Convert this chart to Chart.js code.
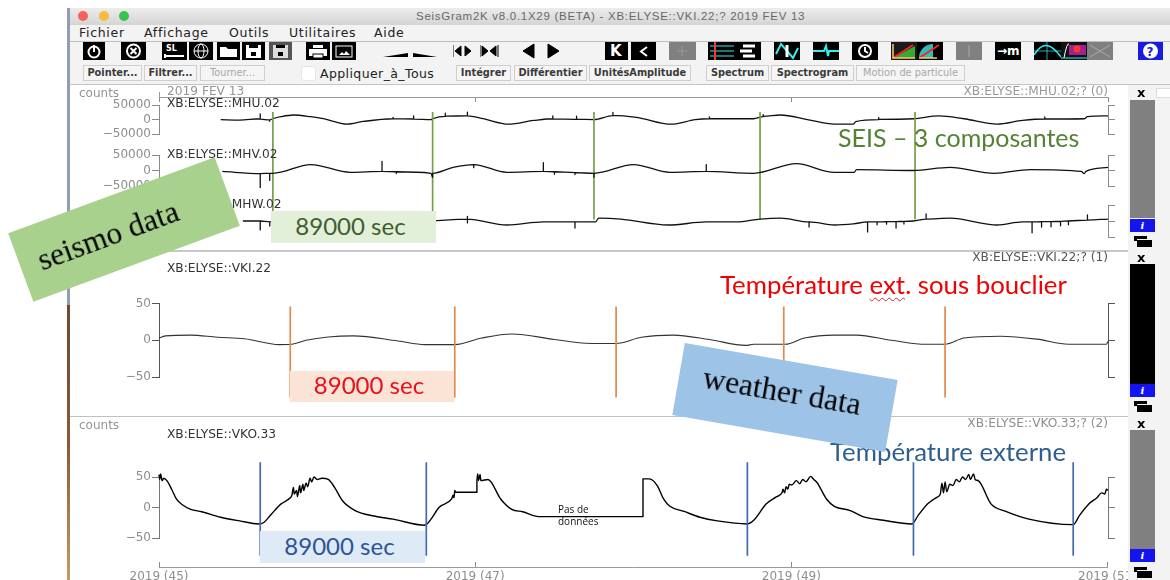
<!DOCTYPE html>
<html lang="fr">
<head>
<meta charset="utf-8">
<title>SeisGram2K</title>
<script src="https://cdn.jsdelivr.net/npm/chart.js@4"></script>
<style>
  html, body { margin: 0; width: 1170px; height: 580px; overflow: hidden; background: #fff; }
  #page { position: absolute; left: 0; top: 0; width: 1170px; height: 580px; overflow: hidden; filter: blur(0.35px); font-family: "DejaVu Sans", sans-serif; }
  #page > * { position: absolute; }
  .t { white-space: nowrap; transform: translateY(-50%); }
  .btn { box-sizing: border-box; height: 16px; top: 65px; border: 1px solid #cfcfcf; background: #f5f5f5; font: bold 9.8px/14px "DejaVu Sans", sans-serif; color: #3a3a3a; text-align: center; }
  .off { color: #a8a8a8; font-weight: normal; }
  .icon { top: 42px; height: 18px; background: #000; }
  .icon svg { display: block; width: 100%; height: 100%; }
  .tag { box-sizing: border-box; padding: 0 6px 4px 0; display: flex; align-items: center; justify-content: center; font-family: Lato, sans-serif; font-size: 24px; }
  .sticker { box-sizing: border-box; display: flex; align-items: center; justify-content: center; font-family: "Liberation Serif", serif; font-size: 31.5px; color: #000; }
</style>
</head>
<body>
<div id="page"></div>
<script>
// x = jour (2019), y = counts
const timeTicks = [45, 47, 49, 51];
const timeLabels = ['2019 (45)', '2019 (47)', '2019 (49)', '2019 (51)'];
const seisTicks = [-50000, 0, 50000];
const tempTicks = [-50, 0, 50];

const mhu = [[45.39,0],[45.51,-1500],[45.64,3000],[45.64,20000],[45.64,1500],[45.70,-1000],[45.70,-6000],[45.70,-1000],[45.72,3000],[45.77,10000],[45.85,16000],[45.96,10000],[46.04,3000],[46.19,-16000],[46.29,-6500],[46.48,3000],[46.48,8000],[46.48,3000],[46.61,2000],[46.61,13000],[46.61,1500],[46.72,0],[46.73,3000],[46.81,11000],[46.81,22000],[46.81,12000],[46.95,13000],[46.95,26000],[46.95,13000],[47.05,3000],[47.21,-16000],[47.37,-3000],[47.49,3000],[47.49,13000],[47.49,2000],[47.64,1000],[47.64,12000],[47.64,1000],[47.75,0],[47.87,14000],[47.87,25000],[47.87,15000],[48.02,8000],[48.24,-16000],[48.39,0],[48.48,3000],[48.48,9000],[48.48,3000],[48.76,3000],[48.82,10000],[48.82,17000],[48.82,11000],[48.93,16000],[49.10,0],[49.27,-16000],[49.39,-16000],[49.405,-7000],[49.55,0],[49.55,7000],[49.55,1000],[49.77,3000],[49.93,13000],[50.09,3000],[50.30,-16000],[50.46,-3000],[50.60,2000],[50.60,9000],[50.60,2000],[50.85,3000],[50.87,10000],[51.00,13000]];

const mhv = [[45.40,-3000],[45.64,-10000],[45.64,-55000],[45.64,-10000],[45.70,-9000],[45.70,-32000],[45.70,-9000],[45.72,-9000],[45.96,19000],[46.21,-6000],[46.41,-3000],[46.41,29000],[46.41,-3000],[46.50,-4000],[46.50,-10000],[46.50,-4000],[46.72,-9000],[46.73,-22000],[46.73,-9000],[46.86,10000],[46.99,19000],[46.99,9000],[46.99,19000],[47.20,-6000],[47.43,-3000],[47.43,25000],[47.43,-3000],[47.50,-4000],[47.50,-12000],[47.50,-4000],[47.63,-7000],[47.63,-13000],[47.63,-7000],[47.75,-9000],[47.75,-22000],[47.75,-9000],[48.00,19000],[48.23,-6000],[48.46,-3000],[48.46,19000],[48.46,-3000],[48.76,-9000],[49.03,22000],[49.27,-6000],[49.395,-6000],[49.41,3000],[49.77,0],[50.00,10000],[50.28,-9000],[50.51,3000],[50.83,-3000],[50.85,-10000],[50.86,-3000],[51.00,10000]];

const mhw = [[45.53,0],[45.64,0],[45.64,-28000],[45.64,0],[45.70,-3000],[45.70,-16000],[45.70,-3000],[45.77,6000],[45.96,9000],[46.19,-12500],[46.46,-3000],[46.72,0],[46.95,6000],[46.95,14000],[46.95,-6000],[46.95,6000],[47.20,-12500],[47.43,-3000],[47.63,-3000],[47.63,-22000],[47.63,-3000],[47.76,-3000],[47.78,9000],[47.92,6000],[48.22,-12500],[48.46,-3000],[48.65,-3000],[48.80,6000],[48.93,9000],[49.11,-3000],[49.11,-19000],[49.11,-3000],[49.27,-12500],[49.39,-9000],[49.48,-3000],[49.48,-34000],[49.48,-3000],[49.54,-3000],[49.54,-12000],[49.54,-3000],[49.60,-2000],[49.60,-10000],[49.60,-2000],[49.66,-2000],[49.66,-22000],[49.66,-2000],[49.71,-1000],[49.71,-9000],[49.71,-1000],[49.77,0],[49.85,6000],[49.85,22000],[49.85,6000],[50.00,9000],[50.30,-12500],[50.46,-3000],[50.52,-3000],[50.52,-37000],[50.52,-3000],[50.58,-2000],[50.58,-19000],[50.58,-2000],[50.64,-2000],[50.64,-18000],[50.64,-2000],[50.70,-1000],[50.70,-15000],[50.70,-1000],[50.75,0],[50.75,-12000],[50.75,0],[50.87,3000],[50.87,19000],[50.87,3000],[51.00,6000]];

const vki = [[45.0,3],[45.04,6],[45.2,7],[45.37,4],[45.54,2],[45.76,-6],[45.84,-5.5],[45.93,0],[46.07,4.5],[46.23,6],[46.51,-1],[46.68,-6],[46.87,-6],[47.04,3],[47.23,8.6],[47.5,1],[47.7,-4],[47.89,-4.5],[48.05,4],[48.25,7],[48.48,1],[48.71,-7],[48.76,-5.5],[48.96,-5.5],[49.08,3],[49.27,7],[49.41,7],[49.63,0],[49.85,-5.5],[49.97,-5.5],[50.09,3],[50.32,5.5],[50.55,1.5],[50.75,-5.5],[50.99,-5.5],[51.0,-1.5]];

const vko = [[45.0,54],[45.005,46],[45.01,55],[45.02,44],[45.03,48],[45.05,44],[45.08,30],[45.11,14],[45.15,4],[45.2,-3],[45.27,-7],[45.39,-16],[45.51,-22],[45.63,-27],[45.66,-25],[45.71,-11],[45.77,5.5],[45.83,16],[45.84,20],[45.85,33],[45.855,22],[45.87,28],[45.875,18],[45.89,36],[45.895,24],[45.91,38],[45.915,28],[45.93,40],[45.94,34],[45.955,48],[45.965,42],[45.98,50],[46.0,46],[46.03,48],[46.07,46],[46.11,33],[46.16,11],[46.24,-5],[46.36,-14],[46.48,-19],[46.68,-29],[46.72,-19],[46.77,0],[46.85,14],[46.86,20],[46.865,16],[46.87,28],[46.875,25],[47.01,25],[47.01,46],[47.015,55],[47.02,44],[47.03,54],[47.035,44],[47.08,46],[47.16,14],[47.23,-3],[47.3,-7],[47.4,-15],[48.06,-15],[48.06,47],[48.1,47],[48.15,36],[48.19,14],[48.23,2],[48.32,-6.5],[48.42,-16],[48.53,-22],[48.72,-27],[48.76,-21],[48.84,6],[48.9,17],[48.94,25],[48.945,30],[48.955,24],[48.965,34],[48.975,30],[48.985,38],[49.0,37],[49.03,44],[49.05,39],[49.07,46],[49.09,42],[49.12,51],[49.14,46],[49.16,41],[49.22,14],[49.27,2],[49.37,-5],[49.45,-15],[49.58,-21],[49.76,-27],[49.8,-13],[49.86,6],[49.92,17],[49.94,22],[49.95,40],[49.96,24],[49.97,42],[49.98,26],[50.0,38],[50.02,36],[50.04,46],[50.06,42],[50.08,50],[50.1,46],[50.12,54],[50.13,46],[50.15,55],[50.16,46],[50.18,44],[50.26,6],[50.35,-6],[50.5,-19],[50.78,-28],[50.82,-13],[50.88,6],[50.93,16],[50.96,24],[50.98,22],[50.99,30],[51.0,28]];

// marqueurs "89000 sec"
const greenMarks = [45.72, 46.73, 47.75, 48.80, 49.78];
const orangeMarks = [45.83, 46.87, 47.89, 48.95, 49.97];
const blueMarks = [45.64, 46.69, 48.72, 49.77, 50.78];

const page = document.getElementById('page');
const tickFont = { family: 'DejaVu Sans', size: 12 };
const minus = v => String(v).replace('-', '\u2212');

function add(css, text, cls) {
    const d = document.createElement('div');
    d.style.cssText = css;
    if (cls) d.className = cls;
    if (text) d.innerHTML = text;
    page.appendChild(d);
    return d;
}
// texte centre verticalement sur y
const label = (text, x, y, css) => add(`left:${x}px;top:${y}px;${css || ''}`, text, 't');

function canvasAt(top, width, height) {
    const c = document.createElement('canvas');
    c.width = width;
    c.height = height;
    c.style.cssText = `left:68px;top:${top}px;`;
    page.appendChild(c);
    return c;
}

// Une voie : zone de trace de plotTop a plotBottom, axe gauche et crochet droit
function traceChart(o) {
    const canvas = canvasAt(o.canvasTop, 1060, o.canvasBottom - o.canvasTop);
    const datasets = [];
    (o.marks || []).forEach(day => datasets.push({
        data: [{ x: day, y: o.markTop }, { x: day, y: o.markBottom }],
        borderColor: o.markColor, borderWidth: 1.7, showLine: true, pointRadius: 0, clip: false
    }));
    datasets.push({
        data: o.series.map(p => ({ x: p[0], y: p[1] })),
        borderColor: o.color, borderWidth: o.width, showLine: true, pointRadius: 0, clip: false,
        cubicInterpolationMode: 'monotone', borderJoinStyle: 'round'
    });
    const yScale = pos => ({
        position: pos, min: o.ticks[0], max: o.ticks[2],
        afterBuildTicks: s => { s.ticks = o.ticks.map(value => ({ value })); },
        afterFit: s => { s.width = pos === 'left' ? 91 : 20; },
        grid: { drawOnChartArea: false, tickLength: 7, tickColor: o.axisColor, tickWidth: 1 },
        border: { color: o.axisColor, width: 1 },
        ticks: { display: pos === 'left', autoSkip: false, font: tickFont, color: '#8e8e8e', padding: 1, callback: minus }
    });
    return new Chart(canvas, {
        type: 'scatter',
        data: { datasets },
        options: {
            responsive: false, animation: false, events: [],
            layout: { autoPadding: false, padding: { top: o.plotTop - o.canvasTop, bottom: o.canvasBottom - o.plotBottom } },
            plugins: { legend: { display: false }, tooltip: { enabled: false } },
            scales: { x: { type: 'linear', display: false, min: 45, max: 51 }, y: yScale('left'), y2: yScale('right') }
        }
    });
}

// le dernier libelle deborde : le canvas est plus large et la marge droite suit
function timeAxis(top, height, plotTop, labels) {
    const canvas = canvasAt(top, 1072, height);
    return new Chart(canvas, {
        type: 'scatter',
        data: { datasets: [{ data: [] }] },
        options: {
            responsive: false, animation: false, events: [],
            layout: { autoPadding: false, padding: { top: plotTop - top, right: 32 } },
            plugins: { legend: { display: false }, tooltip: { enabled: false } },
            scales: {
                x: {
                    type: 'linear', min: 45, max: 51,
                    afterBuildTicks: s => { s.ticks = timeTicks.map(value => ({ value })); },
                    afterFit: s => { s.height = labels ? 18 : 6; },
                    grid: labels ? { drawOnChartArea: true, drawTicks: false, color: '#8a8a8a' } : { drawOnChartArea: false, tickLength: 5, tickColor: '#8a8a8a' },
                    border: { color: '#9a9a9a' },
                    ticks: { display: labels, autoSkip: false, maxRotation: 0, font: tickFont, color: '#8e8e8e', padding: 3,
                        callback: v => timeLabels[timeTicks.indexOf(v)] }
                },
                y: {
                    min: 0, max: 1,
                    afterFit: s => { s.width = 91; },
                    grid: { display: false },
                    border: { display: !labels, color: '#9a9a9a' },
                    ticks: { display: false }
                }
            }
        }
    });
}

// --- fenetre ---
add('left:67px;top:8px;width:3px;height:297px;background:#8f9db5;');
add('left:67px;top:305px;width:3px;height:275px;background:linear-gradient(#6e4a30,#8a5a36 50%,#c49a6a);');
add('left:70px;top:8px;width:1100px;height:17px;background:linear-gradient(#ececec,#d4d4d4);');
[[83, '#f4625a'], [103.5, '#f6bb3e'], [124, '#3ec24f']].forEach(l => add(`left:${l[0] - 5}px;top:11px;width:10px;height:10px;border-radius:50%;background:${l[1]};`));
label('SeisGram2K v8.0.1X29 (BETA) - XB:ELYSE::VKI.22;? 2019 FEV 13', 416, 16, 'font:11.5px "Liberation Sans";letter-spacing:.72px;color:#686868;');
add('left:70px;top:25px;width:1100px;height:60px;background:#f3f3f3;');
add('left:70px;top:41px;width:1100px;height:1px;background:#bdbdbd;');
add('left:70px;top:84px;width:1100px;height:1px;background:#c4c4c4;');
[['Fichier', 79], ['Affichage', 144], ['Outils', 229], ['Utilitaires', 289], ['Aide', 374]].forEach(m =>
    label(m[0], m[1], 32, 'font:12.5px "DejaVu Sans";letter-spacing:.7px;color:#222;'));

// barre d'icones
const white = 'fill="none" stroke="#fff" stroke-width="2"';
const icons = [
    [83, 22, '#000', `<circle cx="11" cy="10" r="5.5" ${white}/><path d="M11 3v7" ${white}/>`],
    [121, 25, '#000', `<circle cx="12.5" cy="9" r="6.5" ${white}/><path d="M9.5 6l6 6M15.5 6l-6 6" ${white}/>`],
    [162, 25, '#000', `<text x="4" y="9" font-size="8" font-weight="bold" fill="#fff" font-family="DejaVu Sans">SL</text><path d="M3 14h19M3 12v4" ${white}/>`],
    [189, 24, '#000', `<circle cx="12" cy="9" r="7" fill="none" stroke="#fff"/><ellipse cx="12" cy="9" rx="3" ry="7" fill="none" stroke="#fff"/><path d="M5 9h14" stroke="#fff"/>`],
    [217, 23, '#000', `<path d="M3 15V5h6l2 2h9v8z" fill="#fff"/>`],
    [242, 23, '#000', `<rect x="4" y="3" width="15" height="13" fill="#fff"/><rect x="9" y="10" width="5" height="4"/><rect x="7" y="3" width="9" height="3"/>`],
    [269, 23, '#555', `<rect x="4" y="3" width="15" height="13" fill="#ddd"/><rect x="9" y="10" width="5" height="4"/><rect x="7" y="3" width="9" height="3"/>`],
    [306, 24, '#000', `<rect x="3" y="7" width="18" height="7" fill="#fff"/><rect x="7" y="3" width="10" height="3" fill="#fff"/><rect x="7" y="12" width="10" height="4" fill="#fff" stroke="#000"/>`],
    [332, 24, '#000', `<rect x="4" y="4" width="16" height="11" fill="none" stroke="#fff"/><path d="M7 13l3-3 2 2 2-3 4 4z" fill="#fff"/>`],
    [605, 23, '#000', `<text x="5" y="14" font-size="15" font-weight="bold" fill="#fff" font-family="DejaVu Sans">K</text>`],
    [631, 25, '#000', `<path d="M16 5l-6 4.5 6 4.5" ${white}/>`],
    [669, 27, '#808080', `<path d="M13 4v10M8 9h10" stroke="#999"/>`],
    [708, 27, '#000', `<path d="M2 4h24M2 9h24M2 14h24" stroke="#3ee"/><path d="M7 0v18" stroke="#f33" stroke-width="2"/>`],
    [735, 26, '#000', `<path d="M8 4h12M5 9h12M8 14h12" stroke="#fff" stroke-width="3"/>`],
    [774, 26, '#000', `<path d="M2 12L7 2l12 14 5-10" fill="none" stroke="#3ee" stroke-width="2"/><path d="M13 3v12" stroke="#fff" stroke-width="3"/>`],
    [813, 26, '#000', `<path d="M0 9h11l2-5 2 10 1-5h10" fill="none" stroke="#3ee" stroke-width="2"/>`],
    [852, 26, '#000', `<circle cx="13" cy="9" r="6" ${white}/><path d="M13 5v4l3 2" ${white}/>`],
    [891, 26, '#1a1a1a', `<path d="M2 16l22-12v12z" fill="#3a3"/><path d="M2 16L22 3" stroke="#f22" stroke-width="2"/><path d="M2 2v14h22" fill="none" stroke="#fc6" stroke-width="1.5"/>`],
    [917, 26, '#000', `<path d="M2 16a14 14 0 0 1 14-14v14z" fill="#3bb"/><path d="M2 16L22 3" stroke="#f22" stroke-width="2"/><path d="M2 16h18" stroke="#fc6" stroke-width="1.5"/>`],
    [956, 26, '#808080', `<path d="M13 3v12" stroke="#aaa"/>`],
    [995, 26, '#000', `<text x="2" y="13" font-size="12" font-weight="bold" fill="#fff" font-family="DejaVu Sans">\u2192m</text>`],
    [1034, 27, '#000', `<path d="M0 13C8 0 16 0 27 15" fill="none" stroke="#3ee" stroke-width="1.5"/><path d="M0 9h27M13 0v18" stroke="#3ee" stroke-width=".7"/>`],
    [1061, 26, '#111', `<rect x="8" y="3" width="17" height="10" fill="#a02090"/><circle cx="16" cy="7" r="3.5" fill="#f33"/><path d="M3 16q3-16 5-14" fill="none" stroke="#fff"/><path d="M0 16h26" stroke="#3ee"/>`],
    [1087, 26, '#808080', `<path d="M3 3l20 12M23 3L3 15" stroke="#aaa"/>`],
    [1138, 25, '#1a1ae0', `<circle cx="12.5" cy="9" r="7.5" fill="#fff"/><text x="8.5" y="13.5" font-size="12" font-weight="bold" fill="#1a1ae0" font-family="DejaVu Sans">?</text>`]
];
icons.forEach(i => add(`left:${i[0]}px;width:${i[1]}px;background:${i[2]};`, `<svg viewBox="0 0 ${i[1]} 18">${i[3]}</svg>`, 'icon'));
[[383, 25, '0 15,25 11,25 15'], [413, 24, '0 11,24 15,0 15']].forEach(w =>
    add(`left:${w[0]}px;top:42px;width:${w[1]}px;height:18px;`, `<svg viewBox="0 0 ${w[1]} 18" width="${w[1]}" height="18"><polygon points="${w[2]}"/></svg>`));
[[453, 'M0 3v12M2 9l6-5v10zM18 9l-6-5v10z', 18], [480, 'M0 3v12M8 9l-6-5v10zM10 9l6-5v10zM18 3v12', 19], [522, 'M1 9l11-7v14z', 13], [547, 'M12 9L1 2v14z', 13]].forEach(a =>
    add(`left:${a[0]}px;top:42px;width:${a[2]}px;height:18px;`, `<svg viewBox="0 0 ${a[2]} 18" width="${a[2]}" height="18"><path d="${a[1]}" stroke="#000" stroke-width="1"/></svg>`));

// boutons
[['Pointer...', 83, 59], ['Filtrer...', 144, 53], ['Tourner...', 200, 65, 1], ['Int\u00e9grer', 456, 55], ['Diff\u00e9rentier', 514, 73], ['Unit\u00e9sAmplitude', 589, 102], ['Spectrum', 706, 63], ['Spectrogram', 771, 83], ['Motion de particule', 856, 109, 1]].forEach(b =>
    add(`left:${b[1]}px;width:${b[2]}px;`, b[0], b[3] ? 'btn off' : 'btn'));
add('left:301px;top:66px;width:13px;height:13px;border-radius:3px;background:#fff;border:1px solid #e6e6e6;');
label('Appliquer_\u00e0_Tous', 320, 73, 'font:12.5px "DejaVu Sans";letter-spacing:.4px;color:#222;');

// --- voies ---
timeAxis(85, 18, 92, false);
traceChart({ canvasTop: 97, canvasBottom: 240, plotTop: 104, plotBottom: 134, ticks: seisTicks, series: mhu, color: '#111', width: 1.3, axisColor: '#8a8a8a', marks: greenMarks, markTop: 26667, markBottom: -346667, markColor: '#76a04a' });
traceChart({ canvasTop: 140, canvasBottom: 200, plotTop: 155, plotBottom: 186, ticks: seisTicks, series: mhv, color: '#111', width: 1.3, axisColor: '#8a8a8a' });
traceChart({ canvasTop: 195, canvasBottom: 248, plotTop: 205, plotBottom: 237, ticks: seisTicks, series: mhw, color: '#111', width: 1.3, axisColor: '#8a8a8a' });
traceChart({ canvasTop: 295, canvasBottom: 410, plotTop: 303.5, plotBottom: 377, ticks: tempTicks, series: vki, color: '#333', width: 1.1, axisColor: '#555', marks: orangeMarks, markTop: 46, markBottom: -78, markColor: '#e08a4c' });
traceChart({ canvasTop: 455, canvasBottom: 560, plotTop: 477, plotBottom: 538, ticks: tempTicks, series: vko, color: '#000', width: 1.4, axisColor: '#777', marks: blueMarks, markTop: 74, markBottom: -79, markColor: '#3f6cb0' });
timeAxis(555, 30, 562, true);

add('left:70px;top:250px;width:1058px;height:2px;background:#c8c8c8;');
add('left:70px;top:416px;width:1058px;height:1px;background:#c0c0c0;');

// colonne de droite
add('left:1128px;top:85px;width:42px;height:495px;background:#f3f3f3;');
[[92, 100, 118, '#808080', 225, 241], [257, 264, 120, '#000', 390, 406], [423, 430, 119, '#808080', 555, 572]].forEach(p => {
    label('x', 1137, p[0], 'font:bold 13px "DejaVu Sans";color:#000;');
    add(`left:1130px;top:${p[1]}px;width:25px;height:${p[2]}px;background:${p[3]};`);
    add(`left:1130px;top:${p[4] - 6}px;width:25px;height:13px;background:#1414f0;color:#fff;font:italic bold 10px/13px "DejaVu Serif";text-align:center;`, 'i');
    add(`left:1134px;top:${p[5] - 5}px;width:13px;height:5px;background:#000;`);
    add(`left:1137px;top:${p[5] - 2}px;width:15px;height:7px;background:#000;border-top:1px solid #f3f3f3;`);
});
add('left:1156px;top:88px;width:14px;height:8px;background:#fff;border:1px solid #ddd;');

// --- libelles ---
const gray = 'font:12px "DejaVu Sans";color:#949494;';
const dark = 'font:12.2px "DejaVu Sans";color:#333;';
label('counts', 79, 93, gray);
label('counts', 79, 425, gray);
label('2019 FEV 13', 167, 91, gray + 'font-size:12.2px;');
label('XB:ELYSE::MHU.02', 167, 103, dark);
label('XB:ELYSE::MHV.02', 167, 154, dark);
label('XB:ELYSE::MHW.02', 167, 204, dark);
label('XB:ELYSE::VKI.22', 167, 268, dark);
label('XB:ELYSE::VKO.33', 167, 434, dark);
const rightLabel = (text, y, color) => add(`right:62px;top:${y}px;font:12.2px "DejaVu Sans";color:${color};`, text, 't');
rightLabel('XB:ELYSE::MHU.02;? (0)', 91, '#9a9a9a');
rightLabel('XB:ELYSE::VKI.22;? (1)', 257, '#555');
rightLabel('XB:ELYSE::VKO.33;? (2)', 423, '#8e8e8e');
label('Pas de<br>donn\u00e9es', 558, 515, 'font:10px/12px "Open Sans";color:#111;');

// --- annotations ---
label('SEIS \u2013 3 composantes', 838, 136.5, 'font:25px Lato;color:#548235;');
label('Temp\u00e9rature <span style="text-decoration:underline wavy #c33 1px;text-underline-offset:3px;">ext</span>. sous bouclier', 720, 284, 'font:25.8px Lato;color:#f00000;');
label('Temp\u00e9rature externe', 830, 450.5, 'font:25.8px Lato;color:#2f5f8f;');
add('left:271px;top:211px;width:165px;height:32px;background:#e2efd9;color:#3f5f30;', '89000 sec', 'tag');
add('left:290px;top:371px;width:164px;height:31px;background:#fbe4d5;color:#e8101a;', '89000 sec', 'tag');
add('left:260px;top:531px;width:165px;height:32px;background:#deeaf6;color:#2f5496;', '89000 sec', 'tag');
add('left:14px;top:193px;width:220px;height:73px;background:#a9d18e;transform:rotate(-20.2deg);padding-right:34px;', 'seismo data', 'sticker');
add('left:677px;top:361px;width:216px;height:73px;background:#9dc3e6;transform:rotate(9.85deg);padding:0 8px 12px 0;', 'weather data', 'sticker');
</script>
</body>
</html>
